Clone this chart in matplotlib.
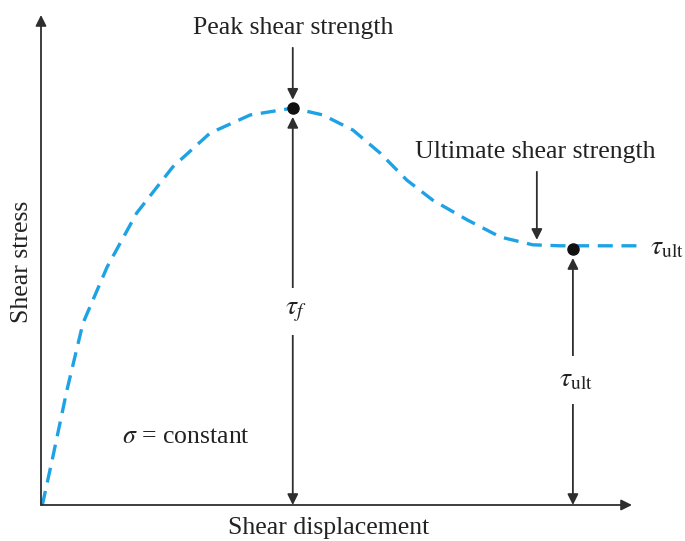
import matplotlib
matplotlib.use("Agg")
import matplotlib.pyplot as plt

plt.rcParams["font.family"] = ["Liberation Serif", "DejaVu Serif"]
plt.rcParams["mathtext.fontset"] = "stix"

# Shear stress vs displacement curve
displacement = [0.0, 0.03, 0.20, 0.44, 0.71, 1.12, 1.62, 2.23, 2.86, 3.54, 4.26,
                4.77, 5.28, 5.74, 6.19, 6.63, 7.21, 7.77, 8.32, 8.78, 9.46, 10.14]
stress = [0.0, 0.04, 0.98, 2.35, 3.71, 4.86, 5.96, 6.90, 7.59, 7.96, 8.10,
          7.96, 7.65, 7.18, 6.63, 6.22, 5.82, 5.47, 5.31, 5.29, 5.29, 5.29]

peak_x, peak_y = 4.26, 8.10
ult_x, ult_y = 9.00, 5.22

text_color = "#222222"
line_color = "#1ea2e6"
axis_color = "#2e2e2e"
fs = 18.5

fig = plt.figure(figsize=(6.85, 5.41), dpi=100)
ax = fig.add_axes([41 / 685, 36 / 541, 591 / 685, 490 / 541])
ax.set_xlim(0, 10)
ax.set_ylim(0, 10)
ax.axis("off")

arrow_kw = dict(arrowstyle="-|>", color=axis_color, lw=1.3,
                mutation_scale=16, shrinkA=0, shrinkB=0)
dbl_kw = dict(arrowstyle="<|-|>", color=axis_color, lw=1.3,
              mutation_scale=16, shrinkA=0, shrinkB=0)

# axes arrows
ax.annotate("", xy=(10, 0), xytext=(0, 0), arrowprops=arrow_kw, annotation_clip=False)
ax.annotate("", xy=(0, 10), xytext=(0, 0), arrowprops=arrow_kw, annotation_clip=False)

# curve
ax.plot(displacement, stress, color=line_color, lw=2.4, ls=(0, (4.5, 2.6)),
        clip_on=False, solid_capstyle="butt")

# points
ax.plot([peak_x, ult_x], [peak_y, ult_y], "o", color="#111111", ms=8, zorder=5)

# callouts
ax.annotate("", xy=(peak_x, 8.27), xytext=(peak_x, 9.33), arrowprops=arrow_kw)
ax.text(peak_x, 9.73, "Peak shear strength", ha="center", va="center",
        fontsize=fs, color=text_color)

ax.annotate("", xy=(8.39, 5.41), xytext=(8.39, 6.80), arrowprops=arrow_kw)
ax.text(8.36, 7.20, "Ultimate shear strength", ha="center", va="center",
        fontsize=fs, color=text_color)

# double arrows with labels
ax.annotate("", xy=(peak_x, 7.92), xytext=(peak_x, 0), arrowprops=dbl_kw)
ax.text(peak_x + 0.05, 3.95, r"$\tau_f$", ha="center", va="center", fontsize=20,
        color=text_color, bbox=dict(fc="white", ec="none", pad=8))

ax.annotate("", xy=(ult_x, 5.04), xytext=(ult_x, 0), arrowprops=dbl_kw)
ax.text(ult_x + 0.06, 2.55, r"$\tau_{\rm ult}$", ha="center", va="center", fontsize=20,
        color=text_color, bbox=dict(fc="white", ec="none", pad=8))

ax.text(10.3, 5.24, r"$\tau_{\rm ult}$", ha="left", va="center", fontsize=20,
        color=text_color, clip_on=False)

ax.text(2.45, 1.39, r"$\sigma$ = constant", ha="center", va="center",
        fontsize=fs, color=text_color)

ax.text(4.87, -0.47, "Shear displacement", ha="center", va="center",
        fontsize=fs, color=text_color, clip_on=False)
ax.text(-0.32, 4.96, "Shear stress", ha="center", va="center", rotation=90,
        fontsize=fs, color=text_color, clip_on=False)

fig.savefig("out.png", dpi=100)
